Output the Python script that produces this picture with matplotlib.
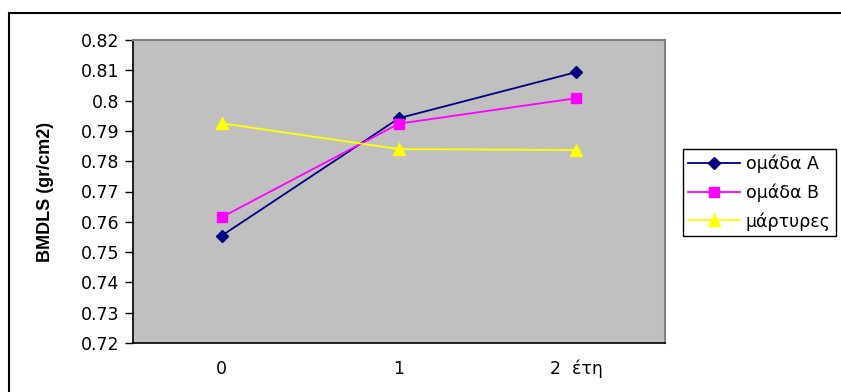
import matplotlib.pyplot as plt
from matplotlib.patches import Rectangle

# BMD of the lumbar spine per group over the follow-up years
years = [0, 1, 2]
year_labels = ['0', '1', '2  έτη']
group_a = [0.7554, 0.7942, 0.8094]
group_b = [0.7615, 0.7924, 0.8008]
controls = [0.7925, 0.7840, 0.7837]

plt.rcParams['font.family'] = ['DejaVu Sans']

fig = plt.figure(figsize=(8.41, 3.92), dpi=100)

# outer chart frame, running off the right and bottom edges
fig.patches.append(Rectangle((9 / 841, -0.1), 1.0, 1 - 13 / 392 + 0.1,
                             transform=fig.transFigure, fill=False,
                             edgecolor='black', linewidth=1.5))

ax = fig.add_axes([133 / 841, 1 - 343 / 392, (665 - 133) / 841, (343 - 40) / 392])
ax.set_facecolor('#C0C0C0')

ax.plot(years, group_a, color='#000080', marker='D', markersize=6.5, linewidth=1.3,
        label='ομάδα A')
ax.plot(years, group_b, color='#FF00FF', marker='s', markersize=7.5, linewidth=1.3,
        label='ομάδα B')
ax.plot(years, controls, color='#FFFF00', marker='^', markersize=8.5, linewidth=1.3,
        label='μάρτυρες')

ax.set_xlim(-0.5, 2.5)
ax.set_ylim(0.72, 0.82)
ax.set_yticks([0.72 + i * 0.01 for i in range(11)])
ax.set_yticklabels(['0.72', '0.73', '0.74', '0.75', '0.76', '0.77', '0.78',
                    '0.79', '0.8', '0.81', '0.82'])
ax.set_xticks(years)
ax.set_xticklabels(year_labels)
ax.tick_params(axis='y', direction='out', length=6, width=1, labelsize=12.5, pad=4)
ax.tick_params(axis='x', length=0, labelsize=12.5, pad=12)

for side in ['top', 'right']:
    ax.spines[side].set_color('#808080')
    ax.spines[side].set_linewidth(1.5)
for side in ['left', 'bottom']:
    ax.spines[side].set_color('black')
    ax.spines[side].set_linewidth(1.2)

fig.text(45 / 841, 1 - 192 / 392, 'BMDLS (gr/cm2)', rotation=90,
         ha='center', va='center', fontsize=13, fontweight='bold',
         family='Liberation Sans')

fig.legend(loc='upper left', bbox_to_anchor=(683 / 841, 1 - 149 / 392),
           fontsize=12.5, frameon=True, fancybox=False, edgecolor='black',
           framealpha=1, borderpad=0.3, labelspacing=0.6, handlelength=3.0,
           handletextpad=0.3, borderaxespad=0)

fig.savefig('out.png', dpi=100)
